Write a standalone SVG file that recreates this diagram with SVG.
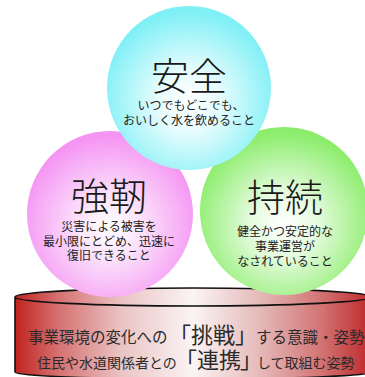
<svg xmlns="http://www.w3.org/2000/svg" width="365" height="377" viewBox="0 0 365 377">
<defs>
<radialGradient id="gCyan" cx="50%" cy="58%" r="55%">
<stop offset="0" stop-color="#ffffff"/>
<stop offset="0.35" stop-color="#e6fcfd"/>
<stop offset="1" stop-color="#7ef0f6"/>
</radialGradient>
<radialGradient id="gPink" cx="50%" cy="58%" r="55%">
<stop offset="0" stop-color="#ffffff"/>
<stop offset="0.35" stop-color="#fbe2fb"/>
<stop offset="1" stop-color="#f594f3"/>
</radialGradient>
<radialGradient id="gGreen" cx="50%" cy="58%" r="55%">
<stop offset="0" stop-color="#ffffff"/>
<stop offset="0.35" stop-color="#e6fbe0"/>
<stop offset="1" stop-color="#8ced6c"/>
</radialGradient>
<linearGradient id="gRed" gradientUnits="userSpaceOnUse" x1="15" y1="0" x2="371" y2="0">
<stop offset="0" stop-color="#c0231f"/>
<stop offset="0.12" stop-color="#d67070"/>
<stop offset="0.3" stop-color="#eac4c4"/>
<stop offset="0.5" stop-color="#fbf4f4"/>
<stop offset="0.68" stop-color="#e6bcbc"/>
<stop offset="0.86" stop-color="#d27474"/>
<stop offset="1" stop-color="#c0282a"/>
</linearGradient>
</defs>
<style>
.t{font-family:"Noto Sans CJK JP","Noto Sans CJK SC",sans-serif;fill:#1a1a1a}
.big{font-size:38px;text-anchor:middle;font-weight:300}
.sub{font-size:12px;text-anchor:middle;fill:#222}
.base{fill:#2a2a2a}
.cyl{stroke:#111;stroke-width:1.6}
</style>
<g id="base">
<path class="cyl" d="M15,298 L15,372 A178,7 0 0 0 371,372 L371,298 Z" fill="url(#gRed)"/>
<ellipse class="cyl" cx="193" cy="297" rx="178" ry="9" fill="url(#gRed)"/>
<text class="t base" y="343"><tspan x="28" font-size="15.5">事業環境の変化への</tspan><tspan x="169" font-size="22">「</tspan><tspan x="191" font-size="22">挑戦</tspan><tspan x="235" font-size="22">」</tspan><tspan x="256" font-size="15.5">する意識・姿勢</tspan></text>
<text class="t base" y="368"><tspan x="37" font-size="14">住民や水道関係者との</tspan><tspan x="175" font-size="22">「</tspan><tspan x="197" font-size="22">連携</tspan><tspan x="240" font-size="22">」</tspan><tspan x="257" font-size="14">して取組む姿勢</tspan></text>
</g>
<g id="kyojin">
<circle cx="110" cy="214" r="83" fill="url(#gPink)"/>
<text class="t big" x="109" y="210">強靭</text>
<text class="t sub" x="109" y="231">災害による被害を</text>
<text class="t sub" x="109" y="246">最小限にとどめ、迅速に</text>
<text class="t sub" x="109" y="260">復旧できること</text>
</g>
<g id="jizoku">
<circle cx="284" cy="211" r="84" fill="url(#gGreen)"/>
<text class="t big" x="285" y="211">持続</text>
<text class="t sub" x="285" y="236">健全かつ安定的な</text>
<text class="t sub" x="285" y="251">事業運営が</text>
<text class="t sub" x="285" y="266">なされていること</text>
</g>
<g id="anzen">
<circle cx="189" cy="88" r="82" fill="url(#gCyan)"/>
<text class="t big" x="189" y="90">安全</text>
<text class="t sub" x="191" y="110" font-size="10.5">いつでもどこでも、</text>
<text class="t sub" x="189" y="125" font-size="10.5">おいしく水を飲めること</text>
</g>
<g id="connectors"></g>
</svg>
